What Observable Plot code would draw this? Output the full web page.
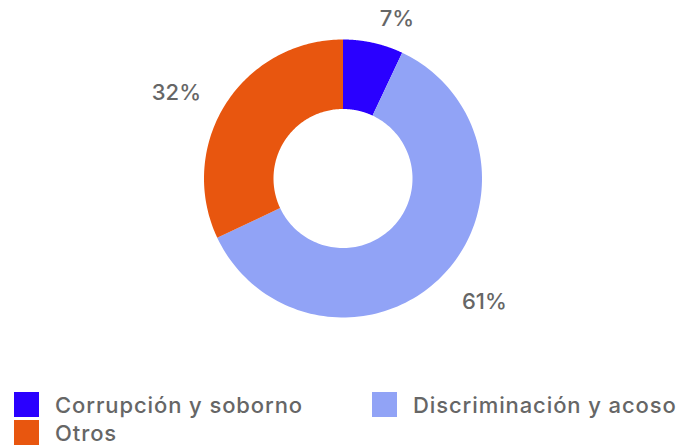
<!DOCTYPE html>
<html><head><meta charset="utf-8">
<script src="https://cdn.jsdelivr.net/npm/d3@7"></script>
<script src="https://cdn.jsdelivr.net/npm/@observablehq/plot@0.6"></script>
<style>
html,body{margin:0;padding:0;background:#fff;}
body{width:696px;height:448px;overflow:hidden;font-family:Inter,Roboto,"Noto Sans",sans-serif;}
#legend{display:grid;grid-template-columns:358px 338px;row-gap:3px;padding-left:14px;margin-top:16px;}
.item{display:flex;align-items:center;height:25px;font-size:22px;font-weight:500;color:#666;letter-spacing:0.9px;white-space:nowrap;}
.sw{width:25px;height:25px;margin-right:16px;flex:none;}
</style></head>
<body>
<div id="chart"></div>
<div id="legend"></div>
<script>
const categories = ["Corrupción y soborno", "Discriminación y acoso", "Otros"];
const values = [7, 61, 32];
const labels = ["7%", "61%", "32%"];
const colors = ["#2a00ff", "#91a3f6", "#e8560f"];

const inner = 0.5, labelR = 1.21;
const pie = d3.pie().sort(null).value(d => d.value)(categories.map((c, i) => ({cat: c, value: values[i], label: labels[i]})));
const poly = [];
const labs = [];
for (const a of pie) {
  const n = 120;
  const pts = [];
  for (let k = 0; k <= n; k++) { const t = a.startAngle + (a.endAngle - a.startAngle) * k / n; pts.push([Math.sin(t), Math.cos(t)]); }
  for (let k = n; k >= 0; k--) { const t = a.startAngle + (a.endAngle - a.startAngle) * k / n; pts.push([inner * Math.sin(t), inner * Math.cos(t)]); }
  pts.forEach(([x, y]) => poly.push({cat: a.data.cat, x, y}));
  const m = (a.startAngle + a.endAngle) / 2;
  labs.push({x: labelR * Math.sin(m), y: labelR * Math.cos(m), label: a.data.label, anchor: Math.sin(m) >= 0 ? "start" : "end"});
}

const cx = 342.5, cy = 178, R = 139;
const textStyle = {x: "x", y: "y", text: "label", fontSize: 22, fontWeight: 500, fill: "#666", dy: 5};
const plot = Plot.plot({
  width: 696, height: 376,
  margin: 0,
  x: {domain: [-1, 1], range: [cx - R, cx + R], axis: null},
  y: {domain: [-1, 1], range: [cy + R, cy - R], axis: null},
  color: {domain: categories, range: colors},
  style: {fontFamily: "Inter, Roboto, 'Noto Sans', sans-serif", background: "#fff"},
  marks: [
    Plot.line(poly, {x: "x", y: "y", z: "cat", fill: "cat", stroke: null, curve: "linear"}),
    Plot.text(labs.filter(d => d.anchor === "start"), {...textStyle, textAnchor: "start"}),
    Plot.text(labs.filter(d => d.anchor === "end"), {...textStyle, textAnchor: "end"})
  ]
});
document.getElementById("chart").appendChild(plot);

const lg = document.getElementById("legend");
categories.forEach((c, i) => {
  const it = document.createElement("div");
  it.className = "item";
  const sw = document.createElement("span");
  sw.className = "sw"; sw.style.background = colors[i];
  it.appendChild(sw);
  it.appendChild(document.createTextNode(c));
  lg.appendChild(it);
});
</script>
</body></html>
